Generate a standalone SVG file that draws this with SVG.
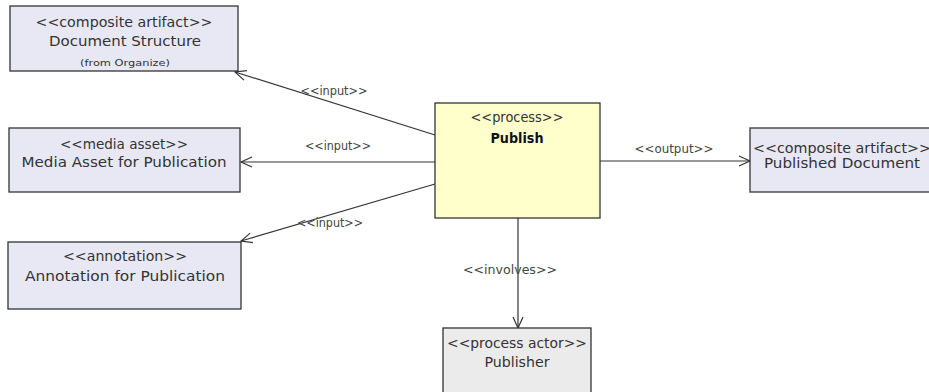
<svg xmlns="http://www.w3.org/2000/svg" width="929" height="392" viewBox="0 0 929 392">
<style>
  .box { stroke: #333; stroke-width: 1.3; }
  .art { fill: #E8E8F5; }
  .proc { fill: #FFFFCC; }
  .actor { fill: #EBEBEB; }
  text { font-family: "DejaVu Sans", "Liberation Sans", sans-serif; fill: #333; text-anchor: middle; }
  .st { font-size: 13.5px; }
  .nm { font-size: 14.5px; }
  .sm { font-size: 8.5px; }
  .b { font-weight: bold; font-size: 13.5px; fill: #111; }
  .lbl { font-size: 12px; fill: #444; }
  .edge { stroke: #333; stroke-width: 1.2; fill: none; }
</style>
<defs>
  <marker id="open" markerWidth="14" markerHeight="12" refX="12" refY="6" orient="auto" markerUnits="userSpaceOnUse">
    <path d="M1,1 L12,6 L1,11" fill="none" stroke="#333" stroke-width="1.2"/>
  </marker>
</defs>
<g id="connectors">
  <line class="edge" x1="435" y1="135" x2="235" y2="72" marker-end="url(#open)"/>
  <text class="lbl" x="334" y="95" textLength="67" lengthAdjust="spacingAndGlyphs">&lt;&lt;input&gt;&gt;</text>
  <line class="edge" x1="435" y1="162" x2="241" y2="162" marker-end="url(#open)"/>
  <text class="lbl" x="338" y="150" textLength="66" lengthAdjust="spacingAndGlyphs">&lt;&lt;input&gt;&gt;</text>
  <line class="edge" x1="435" y1="184" x2="241" y2="241" marker-end="url(#open)"/>
  <text class="lbl" x="330" y="227" textLength="66" lengthAdjust="spacingAndGlyphs">&lt;&lt;input&gt;&gt;</text>
  <line class="edge" x1="600" y1="161" x2="750" y2="161" marker-end="url(#open)"/>
  <text class="lbl" x="674" y="153" textLength="79" lengthAdjust="spacingAndGlyphs">&lt;&lt;output&gt;&gt;</text>
  <line class="edge" x1="518" y1="218" x2="518" y2="328" marker-end="url(#open)"/>
  <text class="lbl" x="510" y="274" textLength="94" lengthAdjust="spacingAndGlyphs">&lt;&lt;involves&gt;&gt;</text>
</g>
<g id="doc-structure">
  <rect class="box art" x="10" y="6" width="228" height="65"/>
  <text class="st" x="124" y="27" textLength="177" lengthAdjust="spacingAndGlyphs">&lt;&lt;composite artifact&gt;&gt;</text>
  <text class="nm" x="125" y="46" textLength="152" lengthAdjust="spacingAndGlyphs">Document Structure</text>
  <text class="sm" x="125" y="66" textLength="90" lengthAdjust="spacingAndGlyphs">(from Organize)</text>
</g>
<g id="media-asset">
  <rect class="box art" x="9" y="128" width="231" height="64"/>
  <text class="st" x="124" y="149" textLength="128" lengthAdjust="spacingAndGlyphs">&lt;&lt;media asset&gt;&gt;</text>
  <text class="nm" x="124" y="167" textLength="205" lengthAdjust="spacingAndGlyphs">Media Asset for Publication</text>
</g>
<g id="annotation">
  <rect class="box art" x="8" y="242" width="233" height="67"/>
  <text class="st" x="125" y="261" textLength="124" lengthAdjust="spacingAndGlyphs">&lt;&lt;annotation&gt;&gt;</text>
  <text class="nm" x="125" y="281" textLength="200" lengthAdjust="spacingAndGlyphs">Annotation for Publication</text>
</g>
<g id="publish">
  <rect class="box proc" x="435" y="103" width="165" height="115"/>
  <text class="st" x="517" y="122" textLength="93" lengthAdjust="spacingAndGlyphs">&lt;&lt;process&gt;&gt;</text>
  <text class="b" x="517" y="143" textLength="53" lengthAdjust="spacingAndGlyphs">Publish</text>
</g>
<g id="published-document">
  <rect class="box art" x="750" y="128" width="184" height="64"/>
  <text class="st" x="842" y="153" textLength="178" lengthAdjust="spacingAndGlyphs">&lt;&lt;composite artifact&gt;&gt;</text>
  <text class="nm" x="842" y="168" textLength="156" lengthAdjust="spacingAndGlyphs">Published Document</text>
</g>
<g id="publisher">
  <rect class="box actor" x="443" y="328" width="148" height="70"/>
  <text class="st" x="517" y="348" textLength="140" lengthAdjust="spacingAndGlyphs">&lt;&lt;process actor&gt;&gt;</text>
  <text class="nm" x="517" y="367" textLength="65" lengthAdjust="spacingAndGlyphs">Publisher</text>
</g>
</svg>
